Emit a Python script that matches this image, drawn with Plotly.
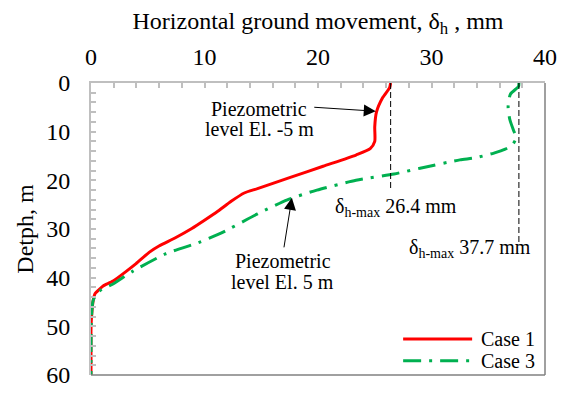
import plotly.graph_objects as go

# Horizontal ground movement profiles (mm) against depth (m)
case1_depth = [0, 1, 3, 6, 9, 12, 13.5, 14.8, 17.1, 19.4, 21.7, 22.6, 24.3, 26.3, 28.2,
               29.9, 31.8, 33.5, 34.8, 37.1, 38.7, 40.7, 41.7, 42.3, 43.3, 44.6, 47.9,
               50.5, 55, 60]
case1_move = [26.4, 26.3, 25.7, 25.15, 25.0, 25.0, 24.6, 23.35, 20.45, 17.56, 14.67,
              13.5, 12.35, 11.2, 10.0, 8.88, 7.44, 5.99, 5.12, 3.97, 3.1, 1.94, 1.07,
              0.78, 0.35, 0.2, 0.05, 0, 0, 0]

case3_depth = [0, 0.7, 2.3, 4.9, 7.5, 9.8, 11.2, 12.8, 13.6, 14.4, 15.4, 15.8, 17.5,
               18.7, 20.0, 22.0, 24.0, 26.9, 30.8, 32.8, 35.1, 38.7, 41.3, 42.7, 44.6,
               49, 60]
case3_move = [37.7, 37.67, 36.95, 36.75, 36.9, 37.24, 37.47, 37.1, 36.5, 35.5, 33.8,
              32.5, 29.0, 26.7, 23.35, 19.9, 17.3, 14.67, 11.5, 9.46, 6.57, 3.67, 1.94,
              0.78, 0.2, 0.03, 0]

series_names = ["Case 1", "Case 3"]
series_colors = ["#ff0000", "#00b050"]
series_dash = ["solid", "18px,8px,3px,8px"]

# Maximum movement markers: value and depth where the guide line stops
max_values = [26.4, 37.7]
max_guide_depth = [21.6, 33.3]
max_label_pos = [(21.3, 25.5), (27.8, 34.0)]

FONT = "Liberation Serif"
TEXT = dict(family=FONT, size=20, color="black")

fig = go.Figure()

for name, xs, ys, col, dash in zip(series_names, [case1_move, case3_move],
                                   [case1_depth, case3_depth], series_colors, series_dash):
    fig.add_trace(go.Scatter(
        x=xs, y=ys, name=name, mode="lines",
        line=dict(color=col, width=3, dash=dash, shape="spline", smoothing=0.6),
        cliponaxis=False, showlegend=False,
    ))

for v, d in zip(max_values, max_guide_depth):
    fig.add_trace(go.Scatter(
        x=[v, v], y=[0, d], mode="lines", showlegend=False,
        line=dict(color="black", width=1, dash="6px,3px"),
    ))

annotations = []
for v, (lx, ly) in zip(max_values, max_label_pos):
    annotations.append(dict(
        x=lx, y=ly, xref="x", yref="y", xanchor="left", yanchor="middle",
        text=f"δ<sub>h-max</sub> {v} mm", showarrow=False, font=TEXT,
    ))

# Piezometric level callouts: two text lines each, plus an arrow
callouts = [
    (14.84, [5.25, 9.52], ["Piezometric", "level El. -5 m"], (25.09, 5.8), (-62, -4)),
    (16.88, [36.6, 40.9], ["Piezometric", "level El. 5 m"], (17.7, 23.6), (-8, 50)),
]
for cx, rows, lines, (hx, hy), (ax, ay) in callouts:
    for ry, line in zip(rows, lines):
        annotations.append(dict(x=cx, y=ry, xref="x", yref="y", showarrow=False,
                                xanchor="center", yanchor="middle", text=line, font=TEXT))
    annotations.append(dict(x=hx, y=hy, xref="x", yref="y", text="", showarrow=True,
                            ax=ax, ay=ay, arrowhead=2, arrowsize=2.4, arrowwidth=1,
                            arrowcolor="black", font=dict(size=1), borderpad=0))

# Legend drawn inside the plot area, bottom right
shapes = []
legend_rows = [52.6, 57.05]
for name, col, dash, ry in zip(series_names, series_colors, series_dash, legend_rows):
    shapes.append(dict(type="line", xref="x", yref="y", x0=27.5, x1=33.58, y0=ry, y1=ry,
                       line=dict(color=col, width=3, dash=dash)))
    annotations.append(dict(x=34.19, y=ry, xref="x", yref="y", xanchor="left",
                            yanchor="middle", text=name, showarrow=False, font=TEXT))

# Right and bottom frame edges
shapes += [
    dict(type="line", xref="paper", yref="paper", x0=1, x1=1, y0=0, y1=1,
         line=dict(color="#808080", width=1.5)),
    dict(type="line", xref="paper", yref="paper", x0=0, x1=1, y0=0, y1=0,
         line=dict(color="#808080", width=1.5)),
]

axis_common = dict(
    showgrid=False, zeroline=False, showline=True, linecolor="#bfbfbf", linewidth=2,
    ticks="inside", ticklen=5, tickwidth=1.5, tickcolor="#bfbfbf",
    tickfont=dict(family=FONT, size=24, color="black"), ticklabeloverflow="allow",
    minor=dict(ticks="inside", ticklen=5, tickwidth=1.5, tickcolor="#bfbfbf", dtick=2),
)

fig.update_layout(
    width=565, height=396,
    margin=dict(l=91, r=13, t=83, b=8),
    paper_bgcolor="white", plot_bgcolor="white",
    font=dict(family=FONT, color="black"),
    xaxis=dict(range=[0, 40], side="top", dtick=10, ticklabelstandoff=6,
               title=dict(text="Horizontal ground movement, δ<sub>h</sub> , mm",
                          font=dict(family=FONT, size=24), standoff=8),
               **axis_common),
    yaxis=dict(range=[60, 0], dtick=10, ticklabelstandoff=14,
               title=dict(text="Detph, m", font=dict(family=FONT, size=24), standoff=6),
               **axis_common),
    annotations=annotations,
    shapes=shapes,
    showlegend=False,
)

fig.write_html("out.html")
